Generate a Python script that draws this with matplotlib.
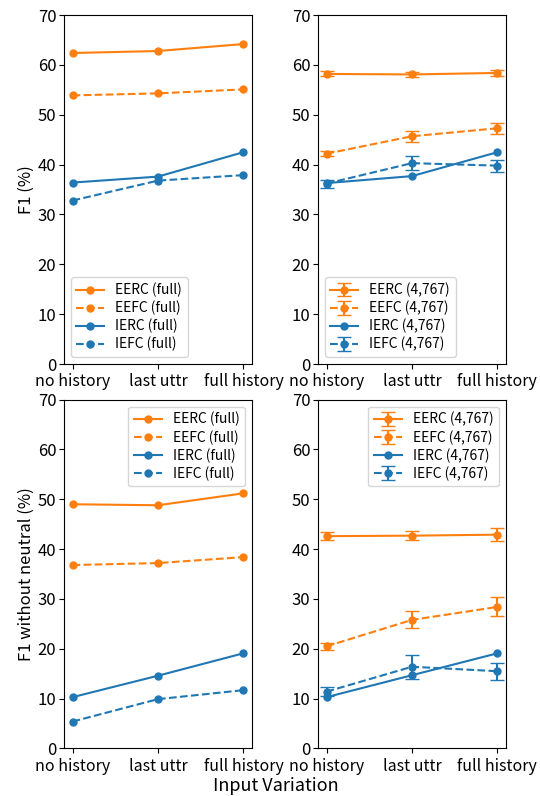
import matplotlib
matplotlib.use("Agg")
import matplotlib.pyplot as plt

plt.rcParams['font.family'] = ['Noto Sans CJK JP', 'DejaVu Sans']

############################################
## Data
############################################

x_labels = ["no history", "last uttr", "full history"]
x = [0, 1, 2]

# F1 (%) - full
eerc_full = [62.4, 62.8, 64.2]
eefc_full = [53.9, 54.3, 55.1]
ierc_full = [36.4, 37.6, 42.5]
iefc_full = [32.8, 36.8, 37.9]

# F1 (%) - 4,767 subset (mean, err)
eerc_sub = [58.2, 58.1, 58.4]
eerc_sub_err = [0.5, 0.5, 0.6]
eefc_sub = [42.2, 45.7, 47.3]
eefc_sub_err = [0.5, 1.1, 1.1]
ierc_sub = [36.3, 37.7, 42.5]
iefc_sub = [36.2, 40.3, 39.8]
iefc_sub_err = [0.8, 1.4, 1.2]

# F1 without neutral (%) - full
eerc_nn_full = [49.0, 48.8, 51.2]
eefc_nn_full = [36.8, 37.2, 38.4]
ierc_nn_full = [10.3, 14.6, 19.1]
iefc_nn_full = [5.4, 9.9, 11.7]

# F1 without neutral (%) - 4,767 subset
eerc_nn_sub = [42.6, 42.7, 42.9]
eerc_nn_sub_err = [0.8, 0.9, 1.3]
eefc_nn_sub = [20.5, 25.8, 28.4]
eefc_nn_sub_err = [0.7, 1.7, 1.9]
ierc_nn_sub = [10.3, 14.7, 19.1]
iefc_nn_sub = [11.4, 16.4, 15.5]
iefc_nn_sub_err = [0.9, 2.4, 1.75]

orange = "#ff7f0e"
blue = "#1f77b4"

############################################
## Plot
############################################

fig, axes = plt.subplots(2, 2, figsize=(5.4, 7.96), dpi=100)
fig.subplots_adjust(left=0.1185, right=0.937, top=0.981, bottom=0.0597,
                    wspace=0.351, hspace=0.102)


def plot_full(ax, eerc, eefc, ierc, iefc):
    ax.plot(x, eerc, "o-", color=orange, ms=5, label="EERC (full)")
    ax.plot(x, eefc, "o--", color=orange, ms=5, label="EEFC (full)")
    ax.plot(x, ierc, "o-", color=blue, ms=5, label="IERC (full)")
    ax.plot(x, iefc, "o--", color=blue, ms=5, label="IEFC (full)")


def plot_sub(ax, eerc, eerc_err, eefc, eefc_err, ierc, iefc, iefc_err):
    h1 = ax.errorbar(x, eerc, yerr=eerc_err, fmt="o-", color=orange, ms=5, capsize=5, label="EERC (4,767)")
    h2 = ax.errorbar(x, eefc, yerr=eefc_err, fmt="o--", color=orange, ms=5, capsize=5, label="EEFC (4,767)")
    h3, = ax.plot(x, ierc, "o-", color=blue, ms=5, label="IERC (4,767)")
    h4 = ax.errorbar(x, iefc, yerr=iefc_err, fmt="o--", color=blue, ms=5, capsize=5, label="IEFC (4,767)")
    return [h1, h2, h3, h4]


plot_full(axes[0, 0], eerc_full, eefc_full, ierc_full, iefc_full)
h_top = plot_sub(axes[0, 1], eerc_sub, eerc_sub_err, eefc_sub, eefc_sub_err, ierc_sub, iefc_sub, iefc_sub_err)
plot_full(axes[1, 0], eerc_nn_full, eefc_nn_full, ierc_nn_full, iefc_nn_full)
h_bot = plot_sub(axes[1, 1], eerc_nn_sub, eerc_nn_sub_err, eefc_nn_sub, eefc_nn_sub_err, ierc_nn_sub, iefc_nn_sub, iefc_nn_sub_err)

for ax in axes.flat:
    ax.set_ylim(0, 70)
    ax.set_xticks(x)
    ax.set_xticklabels(x_labels)
    ax.tick_params(axis="y", labelsize=12, pad=2)
    ax.tick_params(axis="x", labelsize=11.5, pad=3)

leg_kw = dict(fontsize=10, labelspacing=0.25, handletextpad=0.8, borderpad=0.4)
axes[0, 0].legend(loc="lower left", **leg_kw)
axes[0, 1].legend(handles=h_top, labels=[h.get_label() for h in h_top], loc="lower left", **leg_kw)
axes[1, 0].legend(loc="upper right", **leg_kw)
axes[1, 1].legend(handles=h_bot, labels=[h.get_label() for h in h_bot], loc="upper right", **leg_kw)

axes[0, 0].set_ylabel("F1 (%)", fontsize=12, labelpad=2)
axes[1, 0].set_ylabel("F1 without neutral (%)", fontsize=12, labelpad=2)
fig.text(0.51, 1 - 786 / 796, "Input Variation", ha="center", va="center", fontsize=13)

plt.savefig("out.png", dpi=100)
plt.close()
